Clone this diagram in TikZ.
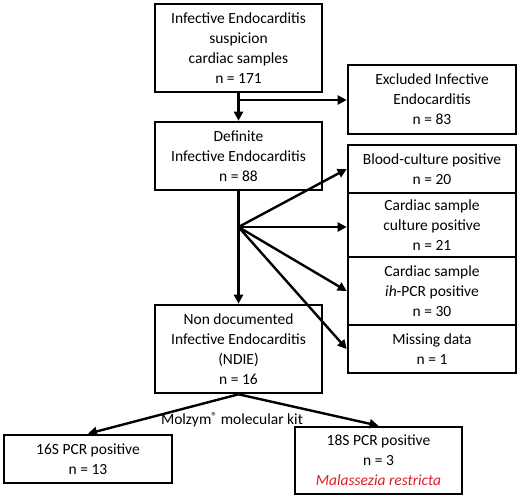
\documentclass[tikz,border=0pt]{standalone}
\usepackage{fontspec}
\setmainfont{Carlito}
\usetikzlibrary{arrows.meta}
\definecolor{mred}{RGB}{220,30,40}
\begin{document}
\begin{tikzpicture}[x=1pt,y=-1pt,
  box/.style={draw=black,line width=2.6pt,align=center,inner sep=0pt,
    font=\fontsize{15.5}{20}\selectfont},
  arr/.style={line width=2.4pt,-{Triangle[length=9pt,width=9pt]}}]
\useasboundingbox (0,0) rectangle (520,499);
\node[box,minimum width=167pt,minimum height=88pt] (top) at (238.5,48)
  {Infective Endocarditis\\suspicion\\cardiac samples\\n = 171};
\node[box,minimum width=168pt,minimum height=69pt] (excl) at (432,99.5)
  {Excluded Infective\\Endocarditis\\n = 83};
\node[box,minimum width=167pt,minimum height=68pt] (def) at (238.5,156)
  {Definite\\Infective Endocarditis\\n = 88};
\node[box,minimum width=168pt,minimum height=48pt] (blood) at (432,169)
  {Blood-culture positive\\n = 20};
\node[box,minimum width=168pt,minimum height=64pt] (cult) at (432,225)
  {Cardiac sample\\culture positive\\n = 21};
\node[box,minimum width=168pt,minimum height=68pt] (ih) at (432,291)
  {Cardiac sample\\\textit{ih}-PCR positive\\n = 30};
\node[box,minimum width=168pt,minimum height=48pt] (miss) at (432,349)
  {Missing data\\n = 1};
\node[box,minimum width=167pt,minimum height=88pt] (ndie) at (238.5,349)
  {Non documented\\Infective Endocarditis\\(NDIE)\\n = 16};
\node[box,minimum width=168pt,minimum height=48pt] (s16) at (88,459)
  {16S PCR positive\\n = 13};
\node[box,minimum width=167pt,minimum height=67pt] (s18) at (378.5,460.5)
  {18S PCR positive\\n = 3\\\textcolor{mred}{\textit{Malassezia restricta}}};
\coordinate (b1) at (238.5,100);
\coordinate (b2) at (238.5,227);
\draw[arr] (top.south) -- (def.north);
\draw[arr] (b1) -- (b1 -| excl.west);
\draw[arr] (def.south) -- (ndie.north);
\draw[arr] (b2) -- (blood.west);
\draw[arr] (b2) -- (b2 -| cult.west);
\draw[arr] (b2) -- (ih.west);
\draw[arr] (b2) -- (miss.west);
\draw[arr] (ndie.south) -- (s16.north);
\draw[arr] (ndie.south) -- (s18.north);
\node[font=\fontsize{15.5}{20}\selectfont,inner sep=0pt] (kit) at (232,420)
  {Molzym\raisebox{4pt}{\scalebox{0.75}{®}} molecular kit};
\end{tikzpicture}
\end{document}
